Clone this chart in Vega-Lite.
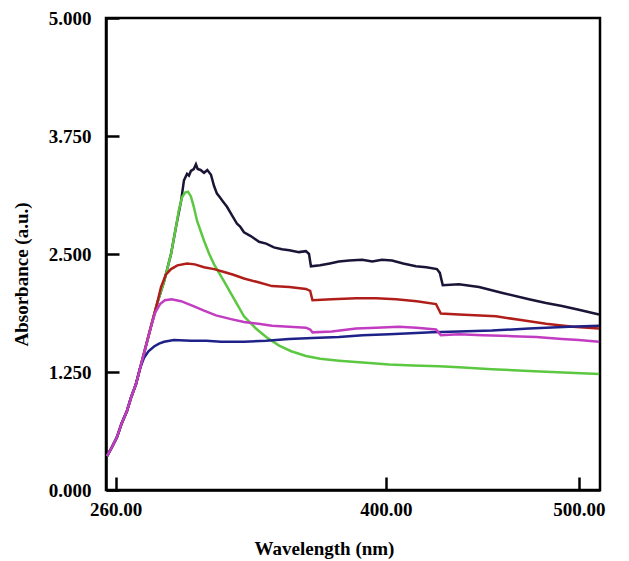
{
  "$schema": "https://vega.github.io/schema/vega-lite/v6.json",
  "width": 494,
  "height": 472,
  "padding": {"left": 12, "top": 9, "right": 5, "bottom": 5},
  "config": {
    "view": {"stroke": "black", "strokeWidth": 2.5},
    "font": "Liberation Serif"
  },
  "datasets": {
    "legendrows": [
      {"label":"CdS:Cu²⁺Tb³⁺"},{"label":"CdS:Cu²⁺Er³⁺"},{"label":"CdS:Cu²⁺Gd³⁺"},{"label":"CdS:Cu²⁺"},{"label":"Undoped CdS"}
    ],
    "spectra": [
      {"s":"CdS:Cu²⁺Tb³⁺","x":255.5,"y":0.36},{"s":"CdS:Cu²⁺Tb³⁺","x":258,"y":0.45},{"s":"CdS:Cu²⁺Tb³⁺","x":260.7,"y":0.56},{"s":"CdS:Cu²⁺Tb³⁺","x":263,"y":0.70},{"s":"CdS:Cu²⁺Tb³⁺","x":265.9,"y":0.84},{"s":"CdS:Cu²⁺Tb³⁺","x":268,"y":0.98},{"s":"CdS:Cu²⁺Tb³⁺","x":270.5,"y":1.12},{"s":"CdS:Cu²⁺Tb³⁺","x":273.7,"y":1.37},{"s":"CdS:Cu²⁺Tb³⁺","x":278.3,"y":1.73},{"s":"CdS:Cu²⁺Tb³⁺","x":281.4,"y":1.97},{"s":"CdS:Cu²⁺Tb³⁺","x":285.1,"y":2.21},{"s":"CdS:Cu²⁺Tb³⁺","x":288.7,"y":2.50},{"s":"CdS:Cu²⁺Tb³⁺","x":291.3,"y":2.79},{"s":"CdS:Cu²⁺Tb³⁺","x":293.9,"y":3.06},{"s":"CdS:Cu²⁺Tb³⁺","x":295.4,"y":3.28},{"s":"CdS:Cu²⁺Tb³⁺","x":297,"y":3.35},{"s":"CdS:Cu²⁺Tb³⁺","x":298,"y":3.33},{"s":"CdS:Cu²⁺Tb³⁺","x":299,"y":3.38},{"s":"CdS:Cu²⁺Tb³⁺","x":300.5,"y":3.40},{"s":"CdS:Cu²⁺Tb³⁺","x":301.6,"y":3.45},{"s":"CdS:Cu²⁺Tb³⁺","x":302.5,"y":3.40},{"s":"CdS:Cu²⁺Tb³⁺","x":304,"y":3.39},{"s":"CdS:Cu²⁺Tb³⁺","x":305.8,"y":3.36},{"s":"CdS:Cu²⁺Tb³⁺","x":307.5,"y":3.39},{"s":"CdS:Cu²⁺Tb³⁺","x":309.4,"y":3.34},{"s":"CdS:Cu²⁺Tb³⁺","x":311,"y":3.22},{"s":"CdS:Cu²⁺Tb³⁺","x":312.5,"y":3.14},{"s":"CdS:Cu²⁺Tb³⁺","x":314,"y":3.10},{"s":"CdS:Cu²⁺Tb³⁺","x":315.5,"y":3.06},{"s":"CdS:Cu²⁺Tb³⁺","x":317.7,"y":3.00},{"s":"CdS:Cu²⁺Tb³⁺","x":320,"y":2.92},{"s":"CdS:Cu²⁺Tb³⁺","x":322.9,"y":2.82},{"s":"CdS:Cu²⁺Tb³⁺","x":324.5,"y":2.79},{"s":"CdS:Cu²⁺Tb³⁺","x":326.5,"y":2.73},{"s":"CdS:Cu²⁺Tb³⁺","x":330,"y":2.69},{"s":"CdS:Cu²⁺Tb³⁺","x":334.3,"y":2.63},{"s":"CdS:Cu²⁺Tb³⁺","x":338,"y":2.61},{"s":"CdS:Cu²⁺Tb³⁺","x":342,"y":2.57},{"s":"CdS:Cu²⁺Tb³⁺","x":346.2,"y":2.55},{"s":"CdS:Cu²⁺Tb³⁺","x":350,"y":2.54},{"s":"CdS:Cu²⁺Tb³⁺","x":355,"y":2.52},{"s":"CdS:Cu²⁺Tb³⁺","x":358.6,"y":2.53},{"s":"CdS:Cu²⁺Tb³⁺","x":360.2,"y":2.50},{"s":"CdS:Cu²⁺Tb³⁺","x":361.2,"y":2.37},{"s":"CdS:Cu²⁺Tb³⁺","x":366,"y":2.38},{"s":"CdS:Cu²⁺Tb³⁺","x":371,"y":2.40},{"s":"CdS:Cu²⁺Tb³⁺","x":375.7,"y":2.42},{"s":"CdS:Cu²⁺Tb³⁺","x":381,"y":2.43},{"s":"CdS:Cu²⁺Tb³⁺","x":387.7,"y":2.44},{"s":"CdS:Cu²⁺Tb³⁺","x":393,"y":2.42},{"s":"CdS:Cu²⁺Tb³⁺","x":398,"y":2.44},{"s":"CdS:Cu²⁺Tb³⁺","x":403.2,"y":2.43},{"s":"CdS:Cu²⁺Tb³⁺","x":409,"y":2.40},{"s":"CdS:Cu²⁺Tb³⁺","x":415.6,"y":2.37},{"s":"CdS:Cu²⁺Tb³⁺","x":421,"y":2.36},{"s":"CdS:Cu²⁺Tb³⁺","x":426.5,"y":2.34},{"s":"CdS:Cu²⁺Tb³⁺","x":428,"y":2.30},{"s":"CdS:Cu²⁺Tb³⁺","x":429.5,"y":2.17},{"s":"CdS:Cu²⁺Tb³⁺","x":437.9,"y":2.18},{"s":"CdS:Cu²⁺Tb³⁺","x":448.3,"y":2.15},{"s":"CdS:Cu²⁺Tb³⁺","x":460,"y":2.09},{"s":"CdS:Cu²⁺Tb³⁺","x":474.2,"y":2.02},{"s":"CdS:Cu²⁺Tb³⁺","x":483,"y":1.98},{"s":"CdS:Cu²⁺Tb³⁺","x":491.3,"y":1.95},{"s":"CdS:Cu²⁺Tb³⁺","x":500,"y":1.91},{"s":"CdS:Cu²⁺Tb³⁺","x":510.5,"y":1.86},

      {"s":"CdS:Cu²⁺Er³⁺","x":255.5,"y":0.36},{"s":"CdS:Cu²⁺Er³⁺","x":258,"y":0.45},{"s":"CdS:Cu²⁺Er³⁺","x":260.7,"y":0.56},{"s":"CdS:Cu²⁺Er³⁺","x":263,"y":0.70},{"s":"CdS:Cu²⁺Er³⁺","x":265.9,"y":0.84},{"s":"CdS:Cu²⁺Er³⁺","x":268,"y":0.98},{"s":"CdS:Cu²⁺Er³⁺","x":270.5,"y":1.12},{"s":"CdS:Cu²⁺Er³⁺","x":273.7,"y":1.37},{"s":"CdS:Cu²⁺Er³⁺","x":278.3,"y":1.73},{"s":"CdS:Cu²⁺Er³⁺","x":281.4,"y":1.97},{"s":"CdS:Cu²⁺Er³⁺","x":285.1,"y":2.21},{"s":"CdS:Cu²⁺Er³⁺","x":288.7,"y":2.50},{"s":"CdS:Cu²⁺Er³⁺","x":291.3,"y":2.79},{"s":"CdS:Cu²⁺Er³⁺","x":292.8,"y":2.97},{"s":"CdS:Cu²⁺Er³⁺","x":294.4,"y":3.10},{"s":"CdS:Cu²⁺Er³⁺","x":296,"y":3.15},{"s":"CdS:Cu²⁺Er³⁺","x":297.5,"y":3.16},{"s":"CdS:Cu²⁺Er³⁺","x":299,"y":3.11},{"s":"CdS:Cu²⁺Er³⁺","x":300.5,"y":3.00},{"s":"CdS:Cu²⁺Er³⁺","x":302.2,"y":2.85},{"s":"CdS:Cu²⁺Er³⁺","x":305.8,"y":2.64},{"s":"CdS:Cu²⁺Er³⁺","x":308.5,"y":2.50},{"s":"CdS:Cu²⁺Er³⁺","x":311,"y":2.39},{"s":"CdS:Cu²⁺Er³⁺","x":316.2,"y":2.21},{"s":"CdS:Cu²⁺Er³⁺","x":319.5,"y":2.09},{"s":"CdS:Cu²⁺Er³⁺","x":322.9,"y":1.97},{"s":"CdS:Cu²⁺Er³⁺","x":326.5,"y":1.84},{"s":"CdS:Cu²⁺Er³⁺","x":332.7,"y":1.71},{"s":"CdS:Cu²⁺Er³⁺","x":338,"y":1.62},{"s":"CdS:Cu²⁺Er³⁺","x":344.7,"y":1.53},{"s":"CdS:Cu²⁺Er³⁺","x":351,"y":1.47},{"s":"CdS:Cu²⁺Er³⁺","x":358.6,"y":1.42},{"s":"CdS:Cu²⁺Er³⁺","x":366,"y":1.39},{"s":"CdS:Cu²⁺Er³⁺","x":375.7,"y":1.37},{"s":"CdS:Cu²⁺Er³⁺","x":388,"y":1.35},{"s":"CdS:Cu²⁺Er³⁺","x":401.7,"y":1.33},{"s":"CdS:Cu²⁺Er³⁺","x":414,"y":1.32},{"s":"CdS:Cu²⁺Er³⁺","x":427.6,"y":1.31},{"s":"CdS:Cu²⁺Er³⁺","x":437.9,"y":1.30},{"s":"CdS:Cu²⁺Er³⁺","x":455,"y":1.28},{"s":"CdS:Cu²⁺Er³⁺","x":474.2,"y":1.26},{"s":"CdS:Cu²⁺Er³⁺","x":492,"y":1.245},{"s":"CdS:Cu²⁺Er³⁺","x":510.5,"y":1.23},

      {"s":"CdS:Cu²⁺Gd³⁺","x":255.5,"y":0.36},{"s":"CdS:Cu²⁺Gd³⁺","x":258,"y":0.45},{"s":"CdS:Cu²⁺Gd³⁺","x":260.7,"y":0.56},{"s":"CdS:Cu²⁺Gd³⁺","x":263,"y":0.70},{"s":"CdS:Cu²⁺Gd³⁺","x":265.9,"y":0.84},{"s":"CdS:Cu²⁺Gd³⁺","x":268,"y":0.98},{"s":"CdS:Cu²⁺Gd³⁺","x":270.5,"y":1.12},{"s":"CdS:Cu²⁺Gd³⁺","x":273.7,"y":1.37},{"s":"CdS:Cu²⁺Gd³⁺","x":278.3,"y":1.73},{"s":"CdS:Cu²⁺Gd³⁺","x":281.4,"y":1.97},{"s":"CdS:Cu²⁺Gd³⁺","x":283.5,"y":2.15},{"s":"CdS:Cu²⁺Gd³⁺","x":286,"y":2.28},{"s":"CdS:Cu²⁺Gd³⁺","x":288.7,"y":2.34},{"s":"CdS:Cu²⁺Gd³⁺","x":292,"y":2.38},{"s":"CdS:Cu²⁺Gd³⁺","x":297,"y":2.40},{"s":"CdS:Cu²⁺Gd³⁺","x":301,"y":2.39},{"s":"CdS:Cu²⁺Gd³⁺","x":305.8,"y":2.36},{"s":"CdS:Cu²⁺Gd³⁺","x":311,"y":2.34},{"s":"CdS:Cu²⁺Gd³⁺","x":316.2,"y":2.31},{"s":"CdS:Cu²⁺Gd³⁺","x":321,"y":2.28},{"s":"CdS:Cu²⁺Gd³⁺","x":326.5,"y":2.24},{"s":"CdS:Cu²⁺Gd³⁺","x":334,"y":2.20},{"s":"CdS:Cu²⁺Gd³⁺","x":341,"y":2.16},{"s":"CdS:Cu²⁺Gd³⁺","x":350,"y":2.15},{"s":"CdS:Cu²⁺Gd³⁺","x":358.6,"y":2.13},{"s":"CdS:Cu²⁺Gd³⁺","x":360.8,"y":2.11},{"s":"CdS:Cu²⁺Gd³⁺","x":362,"y":2.01},{"s":"CdS:Cu²⁺Gd³⁺","x":372,"y":2.02},{"s":"CdS:Cu²⁺Gd³⁺","x":384.6,"y":2.03},{"s":"CdS:Cu²⁺Gd³⁺","x":395,"y":2.03},{"s":"CdS:Cu²⁺Gd³⁺","x":405.3,"y":2.02},{"s":"CdS:Cu²⁺Gd³⁺","x":416,"y":2.00},{"s":"CdS:Cu²⁺Gd³⁺","x":426,"y":1.97},{"s":"CdS:Cu²⁺Gd³⁺","x":428.5,"y":1.87},{"s":"CdS:Cu²⁺Gd³⁺","x":437.9,"y":1.86},{"s":"CdS:Cu²⁺Gd³⁺","x":457.1,"y":1.84},{"s":"CdS:Cu²⁺Gd³⁺","x":470,"y":1.80},{"s":"CdS:Cu²⁺Gd³⁺","x":483,"y":1.76},{"s":"CdS:Cu²⁺Gd³⁺","x":497,"y":1.73},{"s":"CdS:Cu²⁺Gd³⁺","x":510.5,"y":1.71},

      {"s":"Undoped CdS","x":255.5,"y":0.36},{"s":"Undoped CdS","x":258,"y":0.45},{"s":"Undoped CdS","x":260.7,"y":0.56},{"s":"Undoped CdS","x":263,"y":0.70},{"s":"Undoped CdS","x":265.9,"y":0.84},{"s":"Undoped CdS","x":268,"y":0.98},{"s":"Undoped CdS","x":270.5,"y":1.12},{"s":"Undoped CdS","x":272.5,"y":1.28},{"s":"Undoped CdS","x":274.7,"y":1.40},{"s":"Undoped CdS","x":277,"y":1.47},{"s":"Undoped CdS","x":279.9,"y":1.52},{"s":"Undoped CdS","x":282.5,"y":1.55},{"s":"Undoped CdS","x":285.1,"y":1.57},{"s":"Undoped CdS","x":290.2,"y":1.59},{"s":"Undoped CdS","x":299,"y":1.58},{"s":"Undoped CdS","x":307,"y":1.58},{"s":"Undoped CdS","x":314.6,"y":1.57},{"s":"Undoped CdS","x":326.5,"y":1.57},{"s":"Undoped CdS","x":338,"y":1.58},{"s":"Undoped CdS","x":349.8,"y":1.60},{"s":"Undoped CdS","x":362,"y":1.61},{"s":"Undoped CdS","x":375.7,"y":1.62},{"s":"Undoped CdS","x":388,"y":1.64},{"s":"Undoped CdS","x":401.7,"y":1.65},{"s":"Undoped CdS","x":413,"y":1.66},{"s":"Undoped CdS","x":423.9,"y":1.67},{"s":"Undoped CdS","x":437.9,"y":1.68},{"s":"Undoped CdS","x":455,"y":1.69},{"s":"Undoped CdS","x":474.2,"y":1.71},{"s":"Undoped CdS","x":494.9,"y":1.73},{"s":"Undoped CdS","x":510.5,"y":1.74},

      {"s":"CdS:Cu²⁺","x":255.5,"y":0.36},{"s":"CdS:Cu²⁺","x":258,"y":0.45},{"s":"CdS:Cu²⁺","x":260.7,"y":0.56},{"s":"CdS:Cu²⁺","x":263,"y":0.70},{"s":"CdS:Cu²⁺","x":265.9,"y":0.84},{"s":"CdS:Cu²⁺","x":268,"y":0.98},{"s":"CdS:Cu²⁺","x":270.5,"y":1.12},{"s":"CdS:Cu²⁺","x":273.7,"y":1.37},{"s":"CdS:Cu²⁺","x":276,"y":1.55},{"s":"CdS:Cu²⁺","x":278.3,"y":1.73},{"s":"CdS:Cu²⁺","x":280.5,"y":1.88},{"s":"CdS:Cu²⁺","x":283,"y":1.97},{"s":"CdS:Cu²⁺","x":285.5,"y":2.01},{"s":"CdS:Cu²⁺","x":289,"y":2.02},{"s":"CdS:Cu²⁺","x":293.9,"y":2.00},{"s":"CdS:Cu²⁺","x":300,"y":1.95},{"s":"CdS:Cu²⁺","x":305.8,"y":1.90},{"s":"CdS:Cu²⁺","x":312,"y":1.85},{"s":"CdS:Cu²⁺","x":319.8,"y":1.81},{"s":"CdS:Cu²⁺","x":326.5,"y":1.78},{"s":"CdS:Cu²⁺","x":334,"y":1.76},{"s":"CdS:Cu²⁺","x":341,"y":1.74},{"s":"CdS:Cu²⁺","x":350,"y":1.73},{"s":"CdS:Cu²⁺","x":358.6,"y":1.72},{"s":"CdS:Cu²⁺","x":360.8,"y":1.70},{"s":"CdS:Cu²⁺","x":362,"y":1.67},{"s":"CdS:Cu²⁺","x":372,"y":1.68},{"s":"CdS:Cu²⁺","x":384.6,"y":1.71},{"s":"CdS:Cu²⁺","x":395,"y":1.72},{"s":"CdS:Cu²⁺","x":406.8,"y":1.73},{"s":"CdS:Cu²⁺","x":416,"y":1.72},{"s":"CdS:Cu²⁺","x":426,"y":1.70},{"s":"CdS:Cu²⁺","x":428.5,"y":1.64},{"s":"CdS:Cu²⁺","x":437.9,"y":1.65},{"s":"CdS:Cu²⁺","x":450,"y":1.64},{"s":"CdS:Cu²⁺","x":465.4,"y":1.63},{"s":"CdS:Cu²⁺","x":478,"y":1.62},{"s":"CdS:Cu²⁺","x":491.3,"y":1.60},{"s":"CdS:Cu²⁺","x":500,"y":1.59},{"s":"CdS:Cu²⁺","x":510.5,"y":1.57}
    ]
  },
  "layer": [
    {
      "data": {"name": "spectra"},
      "mark": {"type": "line", "strokeWidth": 2.5, "interpolate": "linear"},
      "encoding": {
        "x": {
          "field": "x", "type": "quantitative",
          "scale": {"domain": [255, 511], "nice": false, "zero": false},
          "axis": {
            "values": [260, 400, 500], "format": ".2f", "grid": false,
            "title": "Wavelength (nm)",
            "titleFont": "Liberation Serif", "titleFontSize": 19, "titleFontWeight": "bold", "titleColor": "black",
            "titleX": 218, "titleY": 58, "titleBaseline": "middle", "titleAlign": "center",
            "labelFont": "Liberation Serif", "labelFontSize": 19, "labelFontWeight": "bold", "labelColor": "black",
            "labelPadding": 23,
            "tickSize": -13, "tickWidth": 2.5, "tickColor": "black",
            "domainColor": "black", "domainWidth": 2.5
          }
        },
        "y": {
          "field": "y", "type": "quantitative",
          "scale": {"domain": [0, 5], "nice": false},
          "axis": {
            "values": [0, 1.25, 2.5, 3.75, 5], "format": ".3f", "grid": false,
            "title": "Absorbance (a.u.)",
            "titleFont": "Liberation Serif", "titleFontSize": 19, "titleFontWeight": "bold", "titleColor": "black",
            "titleX": -85, "titleY": 256, "titleAngle": 270, "titleAlign": "center", "titleBaseline": "middle",
            "labelFont": "Liberation Serif", "labelFontSize": 19, "labelFontWeight": "bold", "labelColor": "black",
            "labelPadding": 28,
            "tickSize": -13, "tickWidth": 2.5, "tickColor": "black",
            "domainColor": "black", "domainWidth": 2.5
          }
        },
        "color": {
          "field": "s", "type": "nominal",
          "scale": {
            "domain": ["CdS:Cu²⁺Tb³⁺", "CdS:Cu²⁺Er³⁺", "CdS:Cu²⁺Gd³⁺", "CdS:Cu²⁺", "Undoped CdS"],
            "range": ["#1c1436", "#5cc842", "#b01e1a", "#c23cc2", "#1e2288"]
          },
          "legend": null
        }
      }
    },
    {
      "data": {"name": "legendrows"},
      "mark": {"type": "line", "strokeWidth": 3.5},
      "encoding": {
        "x": {"field": "x", "type": "quantitative"},
        "y": {"field": "y", "type": "quantitative"},
        "stroke": {
          "field": "label", "type": "nominal",
          "scale": {
            "domain": ["CdS:Cu²⁺Tb³⁺", "CdS:Cu²⁺Er³⁺", "CdS:Cu²⁺Gd³⁺", "CdS:Cu²⁺", "Undoped CdS"],
            "range": ["#6e2a86", "#4cc43a", "#b8201c", "#b83cb8", "#1f2a8a"]
          },
          "legend": {
            "title": null,
            "orient": "none",
            "legendX": 269,
            "legendY": 47,
            "padding": 0,
            "symbolType": "stroke",
            "symbolSize": 4096,
            "symbolStrokeWidth": 3.5,
            "clipHeight": 22,
            "rowPadding": 0.5,
            "labelOffset": 4,
            "labelFont": "Liberation Serif",
            "labelFontSize": 17,
            "labelColor": "black",
            "labelLimit": 200
          }
        }
      }
    }
  ]
}
